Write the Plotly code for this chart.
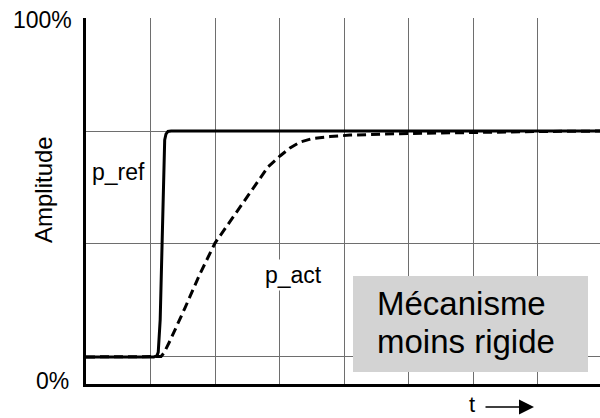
import plotly.graph_objects as go

# Data (time in grid units, amplitude in % of full scale)
ref_t = [0, 1.05, 1.10, 1.12, 1.15, 1.18, 1.21, 1.22, 1.24, 1.27, 1.32, 7.97]
ref_y = [7.4, 7.4, 7.7, 8.7, 17.5, 36.6, 55.7, 66.7, 68.3, 69.0, 69.1, 69.1]

act_t = [0, 1.085, 1.163, 1.209, 1.302, 1.535, 1.767, 2.0, 2.279, 2.543, 2.822,
         3.008, 3.163, 3.318, 3.519, 3.783, 4.093, 4.868, 5.953, 7.039, 7.969]
act_y = [7.4, 7.4, 7.5, 8.5, 11.8, 20.8, 30.1, 38.5, 45.6, 52.5, 59.3,
         62.3, 64.5, 66.1, 67.1, 67.6, 68.0, 68.4, 68.8, 69.0, 69.1]

grid_y = [7.4, 38.3, 69.1, 100]
y_labels = ["0%", "100%"]
box_lines = ["Mécanisme", "moins rigide"]

W, H = 600, 418
L, R, T, B = 86, 0, 18, 34
PW, PH = W - L - R, H - T - B


def px(xp):
    return (xp - L) / PW


def py(yp):
    return (H - B - yp) / PH


FONT = "Liberation Sans, Arial, Helvetica, sans-serif"

fig = go.Figure()
fig.add_trace(go.Scatter(x=ref_t, y=ref_y, mode="lines",
                         line=dict(color="black", width=3), name="p_ref",
                         showlegend=False, hoverinfo="skip"))
fig.add_trace(go.Scatter(x=act_t, y=act_y, mode="lines",
                         line=dict(color="black", width=3, dash="9px,5px"),
                         name="p_act", showlegend=False, hoverinfo="skip"))

fig.update_layout(
    width=W, height=H,
    margin=dict(l=L, r=R, t=T, b=B),
    plot_bgcolor="white", paper_bgcolor="white",
    font=dict(family=FONT, color="black"),
    xaxis=dict(range=[0, PW / 64.5], tick0=0, dtick=1, showgrid=True,
               gridcolor="#6e6e6e", gridwidth=1, showticklabels=False,
               zeroline=False, showline=True, linecolor="black", linewidth=3,
               ticks=""),
    yaxis=dict(range=[0, 100], tickvals=grid_y, showgrid=True,
               gridcolor="#6e6e6e", gridwidth=1, showticklabels=False,
               zeroline=False, showline=True, linecolor="black", linewidth=3,
               ticks=""),
)

# grey box
fig.add_shape(type="rect", xref="paper", yref="paper",
              x0=px(353), x1=px(588), y0=py(372), y1=py(276),
              fillcolor="#d3d3d3", line=dict(width=0), layer="above")

ann = [
    dict(text=box_lines[0], x=px(375), y=py(303), xanchor="left",
         yanchor="middle", font=dict(size=33)),
    dict(text=box_lines[1], x=px(375), y=py(341), xanchor="left",
         yanchor="middle", font=dict(size=33)),
    dict(text="p_ref", x=px(118.5), y=py(172), xanchor="center",
         yanchor="middle", font=dict(size=23), bgcolor="white", borderpad=2),
    dict(text="p_act", x=px(293.5), y=py(275), xanchor="center",
         yanchor="middle", font=dict(size=23), bgcolor="white", borderpad=2),
    dict(text="Amplitude", x=px(43), y=py(190), textangle=-90,
         xanchor="center", yanchor="middle", font=dict(size=24)),
    dict(text=y_labels[1], x=px(74), y=py(20), xanchor="right",
         yanchor="middle", font=dict(size=23)),
    dict(text=y_labels[0], x=px(71), y=py(381), xanchor="right",
         yanchor="middle", font=dict(size=23)),
    dict(text="t", x=px(472), y=py(418), xanchor="center",
         yanchor="bottom", font=dict(size=22), borderpad=0),
]
for a in ann:
    a.update(xref="paper", yref="paper", showarrow=False)
    fig.add_annotation(**a)

fig.add_annotation(x=px(534), y=py(407), xref="paper", yref="paper",
                   ax=-50, ay=0, axref="pixel", ayref="pixel", text="",
                   showarrow=True, arrowhead=2, arrowsize=2, arrowwidth=1.5,
                   arrowcolor="black", standoff=0, startstandoff=0)

fig.write_html("out.html", config={"displayModeBar": False},
               post_script="document.body.style.margin='0';"
                           "document.body.style.overflow='hidden';")
